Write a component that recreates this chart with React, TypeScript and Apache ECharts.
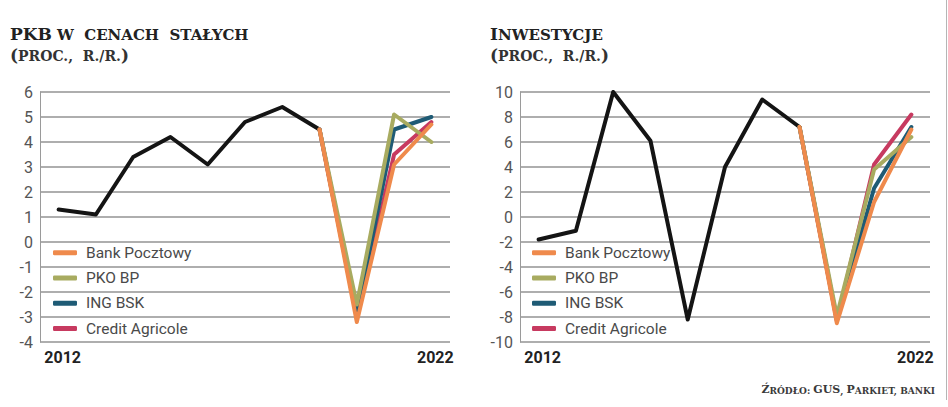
import React, { useEffect, useRef } from "react";
import * as echarts from "echarts";

const years = ["2012", "2013", "2014", "2015", "2016", "2017", "2018", "2019", "2020", "2021", "2022"];
const seriesNames = ["Bank Pocztowy", "PKO BP", "ING BSK", "Credit Agricole"];
const seriesColors = ["#ef8a4c", "#a8ab60", "#1e5b75", "#c73a60"];

// PKB w cenach stałych
const gdpActual = [1.3, 1.1, 3.4, 4.2, 3.1, 4.8, 5.4, 4.5, null, null, null];
const gdpBankPocztowy = [null, null, null, null, null, null, null, 4.5, -3.2, 3.1, 4.7];
const gdpPkoBp = [null, null, null, null, null, null, null, 4.5, -2.5, 5.1, 4.0];
const gdpIngBsk = [null, null, null, null, null, null, null, 4.5, -2.9, 4.5, 5.0];
const gdpCreditAgricole = [null, null, null, null, null, null, null, 4.5, -3.0, 3.5, 4.8];

// Inwestycje
const invActual = [-1.8, -1.1, 10.0, 6.1, -8.2, 4.0, 9.4, 7.2, null, null, null];
const invBankPocztowy = [null, null, null, null, null, null, null, 7.2, -8.5, 1.2, 7.0];
const invPkoBp = [null, null, null, null, null, null, null, 7.2, -7.9, 3.8, 6.4];
const invIngBsk = [null, null, null, null, null, null, null, 7.2, -8.2, 2.3, 7.2];
const invCreditAgricole = [null, null, null, null, null, null, null, 7.2, -8.3, 4.2, 8.2];

const NARROW = "Roboto, sans-serif";
const SERIF = "\"DejaVu Serif\", \"Liberation Serif\", serif";

export default function App() {
  const ref = useRef<HTMLDivElement>(null);

  useEffect(() => {
    if (!ref.current) return;
    const chart = echarts.init(ref.current, undefined, { renderer: "svg" });

    const mkLine = (name: string, data: (number | null)[], color: string, idx: number) => ({
      name,
      type: "line",
      xAxisIndex: idx,
      yAxisIndex: idx,
      data,
      symbol: "none",
      showSymbol: false,
      connectNulls: false,
      lineStyle: { color, width: 4, cap: "round", join: "round" },
      itemStyle: { color },
      emphasis: { disabled: true },
    });

    const gdpSets = [gdpBankPocztowy, gdpPkoBp, gdpIngBsk, gdpCreditAgricole];
    const invSets = [invBankPocztowy, invPkoBp, invIngBsk, invCreditAgricole];
    const drawOrder = [3, 2, 1, 0];

    const series: any[] = [];
    series.push(mkLine("Dane", gdpActual, "#141414", 0));
    drawOrder.forEach((k) => series.push(mkLine(seriesNames[k], gdpSets[k], seriesColors[k], 0)));
    series.push(mkLine("Dane2", invActual, "#141414", 1));
    drawOrder.forEach((k) => series.push(mkLine(seriesNames[k], invSets[k], seriesColors[k], 1)));

    const xAxisBase = (gi: number) => ({
      type: "category",
      gridIndex: gi,
      data: years,
      boundaryGap: true,
      axisLine: { show: false },
      axisTick: { show: false },
      splitLine: { show: false },
      axisLabel: {
        interval: (i: number) => i === 0 || i === years.length - 1,
        fontFamily: NARROW,
        fontWeight: "bold",
        fontSize: 16,
        color: "#222",
        margin: 7,
        padding: [0, 0, 0, 8],
      },
    });

    const yAxisBase = (gi: number, min: number, max: number, interval: number) => ({
      type: "value",
      gridIndex: gi,
      min,
      max,
      interval,
      axisLine: { show: true, lineStyle: { color: "#9a9a9a", width: 1 } },
      axisTick: { show: false },
      splitLine: { show: true, lineStyle: { color: "#939393", width: 1.5 } },
      axisLabel: { fontFamily: NARROW, fontSize: 16, color: "#555", margin: 7 },
    });

    const legendBase = (left: number) => ({
      left,
      top: 235,
      orient: "vertical",
      data: seriesNames,
      selectedMode: false,
      icon: "roundRect",
      itemWidth: 24,
      itemHeight: 5,
      itemGap: 0,
      textStyle: {
        fontFamily: NARROW,
        fontSize: 15.5,
        lineHeight: 25.3,
        color: "#4a4a4a",
        padding: [0, 0, 0, 4],
      },
    });

    const titleRich = {
      big: { fontFamily: SERIF, fontWeight: "bold", fontSize: 17, color: "#222", lineHeight: 18, verticalAlign: "bottom" },
      sm: { fontFamily: SERIF, fontWeight: "bold", fontSize: 15, color: "#222", lineHeight: 18, verticalAlign: "bottom" },
    };
    const subRich = {
      par: { fontFamily: SERIF, fontSize: 17, color: "#333", lineHeight: 20, verticalAlign: "bottom" },
      sm: { fontFamily: SERIF, fontSize: 14, color: "#333", lineHeight: 20, verticalAlign: "bottom" },
    };
    const srcRich = {
      big: { fontFamily: SERIF, fontWeight: "bold", fontSize: 11, color: "#3a3a3a", lineHeight: 14, verticalAlign: "bottom" },
      sm: { fontFamily: SERIF, fontWeight: "bold", fontSize: 9, color: "#3a3a3a", lineHeight: 14, verticalAlign: "bottom" },
    };

    chart.setOption({
      animation: false,
      backgroundColor: "#ffffff",
      title: [
        { left: 5, top: 19, text: "{big|PKB} {sm|W  CENACH  STAŁYCH}", textStyle: { rich: titleRich } },
        { left: 5, top: 38, text: "{par|(}{sm|PROC.,  R./R.}{par|)}", textStyle: { rich: subRich } },
        { left: 485, top: 19, text: "{big|I}{sm|NWESTYCJE}", textStyle: { rich: titleRich } },
        { left: 485, top: 38, text: "{par|(}{sm|PROC.,  R./R.}{par|)}", textStyle: { rich: subRich } },
        {
          right: 8,
          top: 376,
          text: "{big|Ź}{sm|RÓDŁO: }{big|GUS}{sm|, }{big|P}{sm|ARKIET, BANKI}",
          textStyle: { rich: srcRich },
        },
      ],
      legend: [legendBase(48), legendBase(527)],
      grid: [
        { left: 40, top: 92, width: 410, height: 250, containLabel: false },
        { left: 520, top: 92, width: 410, height: 250, containLabel: false },
      ],
      xAxis: [xAxisBase(0), xAxisBase(1)],
      yAxis: [yAxisBase(0, -4, 6, 1), yAxisBase(1, -10, 10, 2)],
      series,
      graphic: [
        { type: "line", shape: { x1: 946.5, y1: 0, x2: 946.5, y2: 400 }, style: { stroke: "#b5b5b5", lineWidth: 1 } },
      ],
    });

    return () => chart.dispose();
  }, []);

  return (
    <div
      ref={ref}
      style={{ position: "fixed", left: 0, top: 0, width: 948, height: 407, background: "#fff" }}
    />
  );
}
